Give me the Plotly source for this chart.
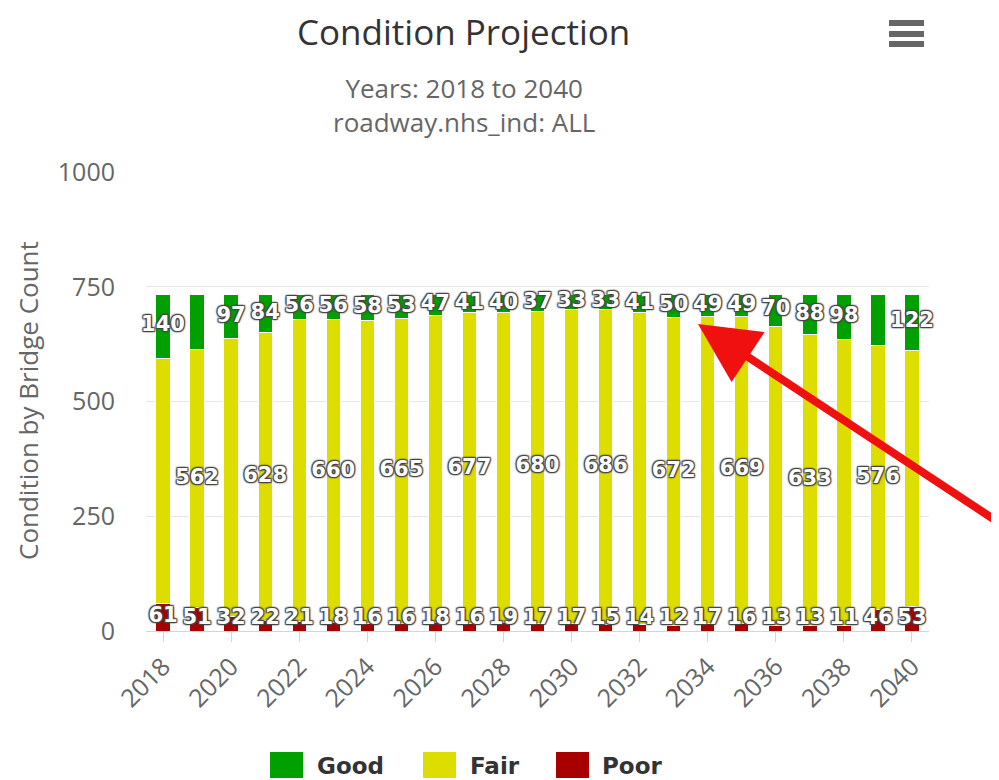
import plotly.graph_objects as go

# Data
years = list(range(2018, 2041))
good = [140, 121, 97, 84, 56, 56, 58, 53, 47, 41, 40, 37, 33, 33, 41, 50, 49, 49, 70, 88, 98, 112, 122]
fair = [533, 562, 605, 628, 657, 660, 660, 665, 669, 677, 675, 680, 684, 686, 679, 672, 668, 669, 651, 633, 625, 576, 559]
poor = [61, 51, 32, 22, 21, 18, 16, 16, 18, 16, 19, 17, 17, 15, 14, 12, 17, 16, 13, 13, 11, 46, 53]

# labels that the original chart hid because they overlapped
good_hidden = [2019, 2039]
fair_shown = [y for y in years if y % 2 == 1]

GREEN, YELLOW, RED = "#00A000", "#DDDD00", "#A80000"

# the html body has an 8px margin, so the figure sits at (8, 8) in the page
OFF = 8
W, H = 999 - OFF, 780 - OFF
# plot area edges in page pixels
X0, X1, Y0, Y1 = 146, 929, 172, 631
L, R, T, B = X0 - OFF, W - (X1 - OFF), Y0 - OFF, H - (Y1 - OFF)
PW, PH = X1 - X0, Y1 - Y0


def px(x, y):
    # page pixel -> paper coords
    return (x - X0) / PW, (Y1 - y) / PH


fig = go.Figure()
for name, vals, col in [("Poor", poor, RED), ("Fair", fair, YELLOW), ("Good", good, GREEN)]:
    fig.add_trace(go.Bar(x=years, y=vals, name=name, marker_color=col,
                         marker_line=dict(color="white", width=1), showlegend=False,
                         hoverinfo="x+y+name"))

outline = "-1px -1px 1px #444, 1px -1px 1px #444, -1px 1px 1px #444, 1px 1px 1px #444, 0 0 3px #555"
lbl_font = dict(family="DejaVu Sans", size=21, color="white", weight="bold", shadow=outline)

# data labels
poor_y = [max(p / 2, 26) for p in poor]
fair_y = [p + f / 2 for p, f in zip(poor, fair)]
good_y = [p + f + g / 2 for p, f, g in zip(poor, fair, good)]
poor_t = [str(v) for v in poor]
fair_t = [str(v) if y in fair_shown else "" for y, v in zip(years, fair)]
good_t = ["" if y in good_hidden else str(v) for y, v in zip(years, good)]

for ys, ts in [(poor_y, poor_t), (fair_y, fair_t), (good_y, good_t)]:
    fig.add_trace(go.Scatter(x=years, y=ys, text=ts, mode="text", textfont=lbl_font,
                             showlegend=False, hoverinfo="skip", cliponaxis=False))

fig.update_layout(
    width=W, height=H, autosize=False,
    margin=dict(l=L, r=R, t=T, b=B),
    barmode="stack", bargap=0.58,
    plot_bgcolor="white", paper_bgcolor="white",
    font=dict(family="Open Sans", color="#666"),
)
fig.update_xaxes(range=[2017.5, 2040.5], tick0=2018, dtick=2, tickangle=-45,
                 ticks="outside", ticklen=10, tickcolor="#ccd6eb",
                 showline=True, linecolor="#ccd6eb", showgrid=False,
                 tickfont=dict(size=25, color="#666"))
fig.update_yaxes(range=[0, 1000], tickvals=[0, 250, 500, 750, 1000],
                 gridcolor="#e6e6e6", zeroline=False, showline=False,
                 ticklabelstandoff=30, tickfont=dict(size=25, color="#666"))

ann = []
x, y = px(463, 32)
ann.append(dict(text="Condition Projection", x=x, y=y, borderpad=0,
                font=dict(size=35, color="#333")))
x, y = px(464, 105)
ann.append(dict(text="Years: 2018 to 2040<br>roadway.nhs_ind: ALL", x=x, y=y,
                font=dict(size=26, color="#666")))
x, y = px(28, 401)
ann.append(dict(text="Condition by Bridge Count", x=x, y=y, textangle=-90,
                font=dict(size=26, color="#666")))

# legend
shapes = []
for name, col, x0, tx in [("Good", GREEN, 270, 315), ("Fair", YELLOW, 423, 468), ("Poor", RED, 556, 600)]:
    a0, b0 = px(x0, 778)
    a1, b1 = px(x0 + 33, 752)
    shapes.append(dict(type="rect", xref="paper", yref="paper", x0=a0, x1=a1, y0=b0, y1=b1,
                       fillcolor=col, line=dict(width=0)))
    tx_, ty_ = px(tx, 766)
    ann.append(dict(text=name, x=tx_, y=ty_, xanchor="left",
                    font=dict(family="DejaVu Sans", size=23, color="#333", weight="bold")))

# export menu icon
for yy in (23, 34, 44):
    a0, b0 = px(889, yy + 3)
    a1, b1 = px(924, yy - 3)
    shapes.append(dict(type="rect", xref="paper", yref="paper", x0=a0, x1=a1, y0=b0, y1=b1,
                       fillcolor="#666", line=dict(width=0)))

for a in ann:
    a.update(xref="paper", yref="paper", showarrow=False)
    a.setdefault("xanchor", "center")
    a.setdefault("yanchor", "middle")

# red arrow
hx, hy = px(698, 324)
ann.append(dict(text="", x=hx, y=hy, xref="paper", yref="paper", showarrow=True,
                ax=300, ay=198, arrowcolor="#f01010", arrowwidth=8, arrowhead=2,
                arrowsize=1.5, standoff=0))

fig.update_layout(annotations=ann, shapes=shapes)
fig.write_html("out.html")
